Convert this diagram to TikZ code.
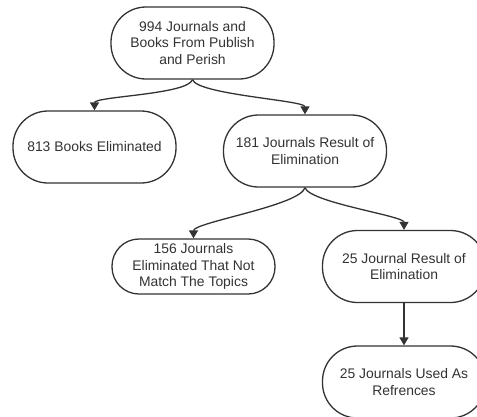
\documentclass[tikz,border=0pt]{standalone}
\usepackage{fontspec}
\setmainfont{Liberation Sans}
\usetikzlibrary{arrows.meta}
\definecolor{ink}{HTML}{333333}
\begin{document}
\begin{tikzpicture}[x=1pt,y=-1pt,
  box/.style={draw=ink,line width=1.3pt,rounded corners=35pt,minimum width=163pt,minimum height=72pt,
    align=center,text=ink,font=\fontsize{13.9pt}{16.7pt}\selectfont,inner sep=0pt},
  sbox/.style={box,minimum height=55pt,rounded corners=27pt},
  arr/.style={draw=ink,line width=1.3pt,-{Triangle[length=8pt,width=9pt]}}]
\useasboundingbox (0,0) rectangle (477,416);
\clip (0,0) rectangle (477,416);
\fill[white] (0,0) rectangle (477,416);
\node[box] (a) at (192.5,43) {994 Journals and\\Books From Publish\\and Perish};
\node[box] (b) at (94.5,147) {813 Books Eliminated};
\node[box] (c) at (305,151) {181 Journals Result of\\Elimination};
\node[sbox] (d) at (193.5,266.5) {156 Journals\\Eliminated That Not\\Match The Topics};
\node[box] (e) at (404,266.5) {25 Journal Result of\\Elimination};
\node[box] (f) at (404,382) {25 Journals Used As\\Refrences};
\draw[arr] (a.south) .. controls +(-5,15) and +(0,-14) .. (b.north);
\draw[arr] (a.south) .. controls +(5,15) and +(0,-14) .. (c.north);
\draw[arr] (c.south) .. controls +(-5,18) and +(0,-16) .. (d.north);
\draw[arr] (c.south) .. controls +(5,15) and +(0,-14) .. (e.north);
\draw[arr] (e.south) -- (f.north);
\end{tikzpicture}
\end{document}
